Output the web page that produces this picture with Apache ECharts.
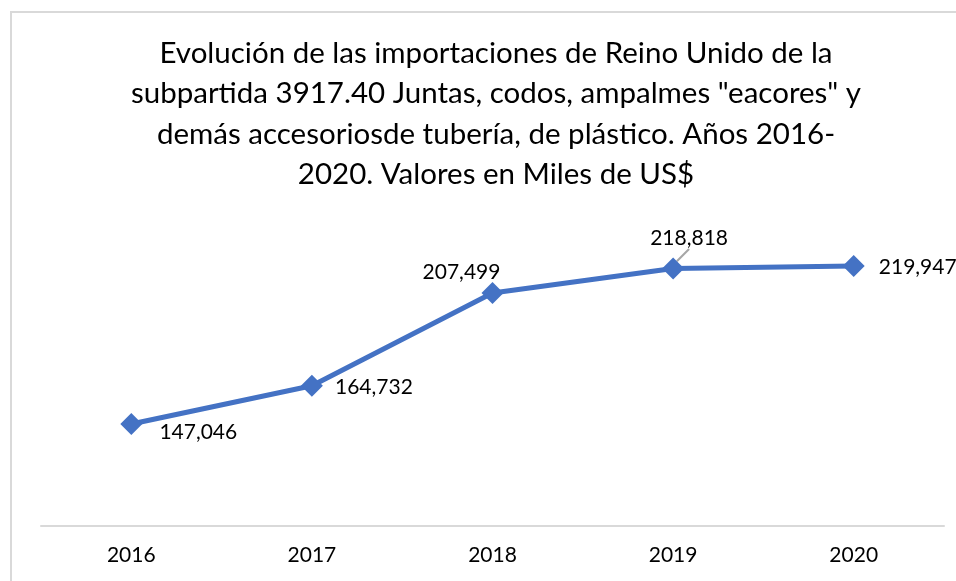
<!DOCTYPE html>
<html>
<head>
<meta charset="utf-8">
<script src="https://cdn.jsdelivr.net/npm/echarts@6/dist/echarts.min.js"></script>
<style>
  html, body { margin: 0; padding: 0; background: #fff; }
  #frame { position: absolute; left: 10px; top: 11px; width: 960px; height: 600px;
           border-left: 2px solid #d9d9d9; border-top: 2px solid #d9d9d9; }
  #chart { position: absolute; left: 0; top: 0; width: 956px; height: 581px; }
</style>
</head>
<body>
<div id="frame"></div>
<div id="chart"></div>
<script>
// datos
var years = ['2016', '2017', '2018', '2019', '2020'];
var imports = [147046, 164732, 207499, 218818, 219947];

// desplazamiento de las etiquetas respecto al punto (dx, dy)
var labelOffsets = [[67, 8], [62, 1], [-31, -21], [16, -30], [64, 1]];
// solo la etiqueta de 2019 lleva línea guía
var withGuide = [false, false, false, true, false];

var chart = echarts.init(document.getElementById('chart'));

var seriesData = imports.map(function (v, i) {
    return {
        value: v,
        labelLine: { show: withGuide[i] }
    };
});

var option = {
    animation: false,
    title: {
        text: 'Evolución de las importaciones de Reino Unido de la\nsubpartida 3917.40 Juntas, codos, ampalmes "eacores" y\ndemás accesoriosde tubería, de plástico. Años 2016-\n2020. Valores en Miles de US$',
        left: 491,
        top: 28,
        textAlign: 'center',
        textStyle: {
            fontFamily: 'Lato',
            fontSize: 29.5,
            fontWeight: 'normal',
            color: '#000',
            lineHeight: 40.5
        }
    },
    grid: { left: 41, right: 12, top: 201, bottom: 55 },
    xAxis: {
        type: 'category',
        data: years,
        axisLine: { lineStyle: { color: '#d9d9d9', width: 2 } },
        axisTick: { show: false },
        axisLabel: { color: '#000', fontFamily: 'Lato', fontSize: 21, margin: 19 }
    },
    yAxis: {
        type: 'value',
        min: 100000,
        max: 250000,
        show: false
    },
    series: [{
        type: 'line',
        data: seriesData,
        symbol: 'diamond',
        symbolSize: 22,
        lineStyle: { color: '#4472c4', width: 5 },
        itemStyle: { color: '#4472c4' },
        label: {
            show: true,
            position: 'inside',
            color: '#000',
            fontFamily: 'Lato',
            fontSize: 21,
            formatter: function (p) { return p.value.toLocaleString('en-US'); }
        },
        labelLayout: function (p) {
            var o = labelOffsets[p.dataIndex];
            return { dx: o[0], dy: o[1] };
        },
        labelLine: {
            show: false,
            length2: 0,
            lineStyle: { color: '#a6a6a6', width: 2 }
        }
    }]
};

chart.setOption(option);
</script>
</body>
</html>
